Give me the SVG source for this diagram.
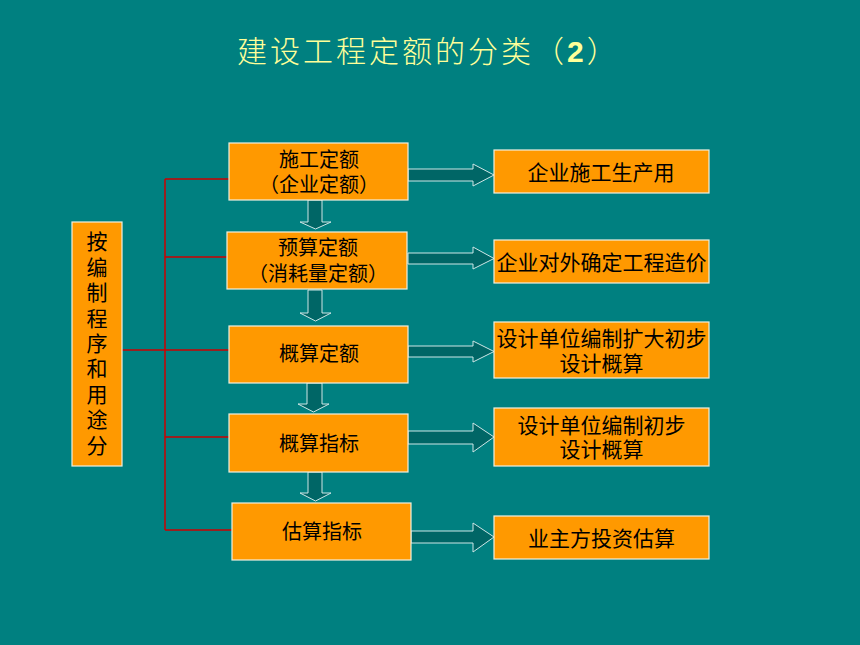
<svg xmlns="http://www.w3.org/2000/svg" width="860" height="645" viewBox="0 0 860 645">
<style>
.box{fill:#FF9900;stroke:#F0F0E0;stroke-width:1.2}
.t{font-family:"Noto Sans CJK SC","Noto Sans",sans-serif;font-size:20px;fill:#000;text-anchor:middle}
.r{font-size:21px}
.arr{fill:#006666;stroke:#CDE6E6;stroke-width:1}
.red{stroke:#CC0000;stroke-width:1.5;fill:none}
.title{font-family:"Noto Sans CJK SC","Noto Sans",sans-serif;font-size:30px;fill:#FFFF99;font-weight:300;letter-spacing:3px}
.vert{font-family:"Noto Sans CJK SC","Noto Sans",sans-serif;font-size:21px;fill:#000;writing-mode:vertical-rl;letter-spacing:4.4px}
</style>
<rect width="860" height="645" fill="#008080"/>
<text class="title" x="237" y="62">建设工程定额的分类（<tspan font-family="'Liberation Sans',sans-serif" font-weight="bold">2</tspan>）</text>

<g id="connectors">
<path class="red" d="M165,179 V530 M165,179 H229 M165,257 H227 M122,350 H229 M165,437 H229 M165,530 H232"/>
<polygon class="arr" points="308,200 322,200 322,222 331,222 315.5,229 300,222 308,222"/>
<polygon class="arr" points="308,290 322,290 322,313 331,313 315.5,321 300,313 308,313"/>
<polygon class="arr" points="307,383 322,383 322,404 329,404 313.5,412 298,404 307,404"/>
<polygon class="arr" points="308,472 322,472 322,493 331,493 315.5,501 300,493 308,493"/>
<polygon class="arr" points="408,169 473,169 473,164 494,175 473,186 473,181 408,181"/>
<polygon class="arr" points="408,253 473,253 473,247 494,258.5 473,269 473,264 408,264"/>
<polygon class="arr" points="408,346 473,346 473,341 494,351.5 473,362 473,357 408,357"/>
<polygon class="arr" points="408,431 473,431 473,423 494,437 473,452 473,444 408,444"/>
<polygon class="arr" points="411,531 473,531 473,523 494,537 473,552 473,543 411,543"/>
</g>

<g id="left">
<rect class="box" x="72" y="222" width="50" height="244"/>
<text class="vert" x="97" y="231">按编制程序和用途分</text>
</g>

<g id="n1">
<rect class="box" x="229" y="143" width="179" height="57"/>
<text class="t" x="319" y="166.5">施工定额<tspan x="319" dy="25">（企业定额）</tspan></text>
</g>
<g id="n2">
<rect class="box" x="227" y="232" width="180" height="57"/>
<text class="t" x="318" y="254.5">预算定额<tspan x="318" dy="26">（消耗量定额）</tspan></text>
</g>
<g id="n3">
<rect class="box" x="229" y="326" width="179" height="57"/>
<text class="t" x="319" y="360.5">概算定额</text>
</g>
<g id="n4">
<rect class="box" x="229" y="414" width="179" height="58"/>
<text class="t" x="319" y="450.5">概算指标</text>
</g>
<g id="n5">
<rect class="box" x="232" y="503" width="179" height="57"/>
<text class="t" x="322" y="538.5">估算指标</text>
</g>

<g id="r1">
<rect class="box" x="494" y="150" width="215" height="43"/>
<text class="t r" x="601" y="180">企业施工生产用</text>
</g>
<g id="r2">
<rect class="box" x="494" y="240" width="215" height="43"/>
<text class="t r" x="601.5" y="270">企业对外确定工程造价</text>
</g>
<g id="r3">
<rect class="box" x="494" y="322" width="215" height="56"/>
<text class="t r" x="601.5" y="346">设计单位编制扩大初步<tspan x="601.5" dy="25">设计概算</tspan></text>
</g>
<g id="r4">
<rect class="box" x="494" y="408" width="215" height="58"/>
<text class="t r" x="601.5" y="433">设计单位编制初步<tspan x="601.5" dy="24">设计概算</tspan></text>
</g>
<g id="r5">
<rect class="box" x="494" y="516" width="215" height="43"/>
<text class="t r" x="601.5" y="546">业主方投资估算</text>
</g>
</svg>
